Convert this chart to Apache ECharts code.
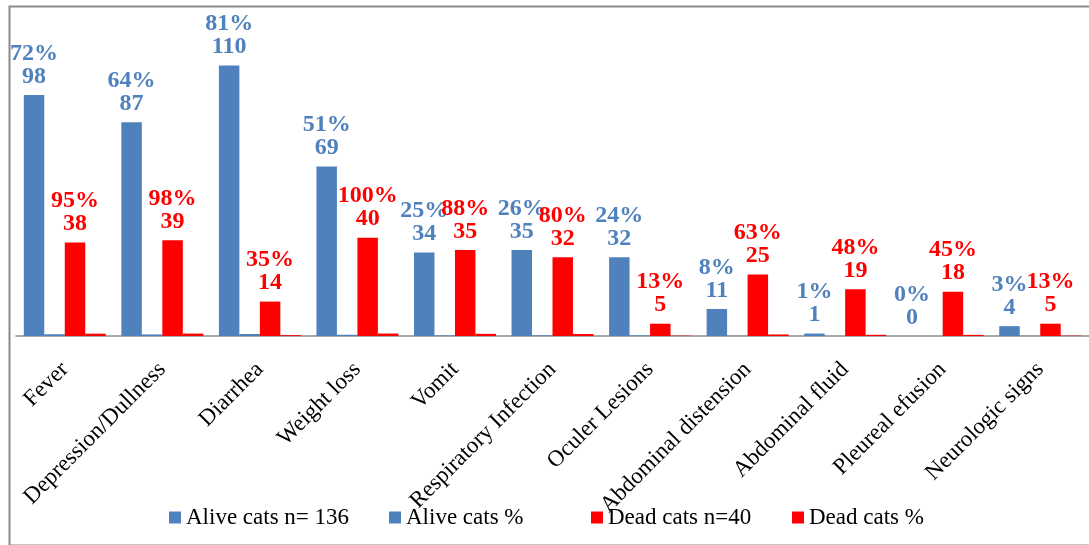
<!DOCTYPE html>
<html>
<head>
<meta charset="utf-8">
<script src="https://cdn.jsdelivr.net/npm/echarts@6/dist/echarts.min.js"></script>
<style>html,body{margin:0;padding:0;background:#fff;}#c{width:1089px;height:545px;}</style>
</head>
<body>
<div id="c"></div>
<script>
const categories = ['Fever','Depression/Dullness','Diarrhea','Weight loss','Vomit','Respiratory Infection','Oculer Lesions','Abdominal distension','Abdominal fluid','Pleureal efusion','Neurologic signs'];
const aliveCounts = [98, 87, 110, 69, 34, 35, 32, 11, 1, 0, 4];
const alivePct = [0.72, 0.64, 0.81, 0.51, 0.25, 0.26, 0.24, 0.08, 0.01, 0, 0.03];
const deadCounts = [38, 39, 14, 40, 35, 32, 5, 25, 19, 18, 5];
const deadPct = [0.95, 0.98, 0.35, 1.00, 0.88, 0.80, 0.13, 0.63, 0.48, 0.45, 0.13];
const seriesNames = ['Alive cats n= 136', 'Alive cats %', 'Dead cats n=40', 'Dead cats %'];

const BLUE = '#4F81BD', RED = '#FF0000';
const FONT = 'Liberation Serif';
const legendLefts = [169, 389, 591, 792];

function countLabel(color, pcts) {
  const st = {fontFamily: FONT, fontSize: 24, fontWeight: 'bold', color: color, lineHeight: 23};
  return {
    show: true, position: 'top', distance: 7,
    formatter: p => '{p|' + Math.round(pcts[p.dataIndex] * 100) + '%}\n{n|' + p.value + '}',
    rich: {p: st, n: st}
  };
}

const chart = echarts.init(document.getElementById('c'), null, {renderer: 'canvas'});
chart.setOption({
  animation: false,
  backgroundColor: '#fff',
  graphic: [{
    type: 'rect', left: 7, top: 4, silent: true, z: -1,
    shape: {x: 0, y: 0, width: 1100, height: 539},
    style: {fill: 'none', stroke: '#8a8a8a', lineWidth: 2}
  }],
  grid: {left: 16, right: -7, top: 41, bottom: 209, containLabel: false},
  legend: seriesNames.map((n, i) => ({
    left: legendLefts[i], top: 506, itemWidth: 12, itemHeight: 12, icon: 'rect', padding: 0,
    textStyle: {fontFamily: FONT, fontSize: 23, color: '#000'},
    data: [n]
  })),
  xAxis: {
    type: 'category', data: categories,
    axisLine: {lineStyle: {color: '#8c8c8c', width: 1.5}},
    axisTick: {show: false},
    axisLabel: {rotate: 45, interval: 0, margin: 30, fontFamily: FONT, fontSize: 23, color: '#000'}
  },
  yAxis: {type: 'value', min: 0, max: 120, show: false, splitLine: {show: false}},
  series: [
    {name: seriesNames[0], type: 'bar', data: aliveCounts, itemStyle: {color: BLUE},
     barGap: '0%', barCategoryGap: '16%', label: countLabel(BLUE, alivePct)},
    {name: seriesNames[1], type: 'bar', data: alivePct, itemStyle: {color: BLUE}},
    {name: seriesNames[2], type: 'bar', data: deadCounts, itemStyle: {color: RED},
     label: countLabel(RED, deadPct)},
    {name: seriesNames[3], type: 'bar', data: deadPct, itemStyle: {color: RED}}
  ]
});
</script>
</body>
</html>
